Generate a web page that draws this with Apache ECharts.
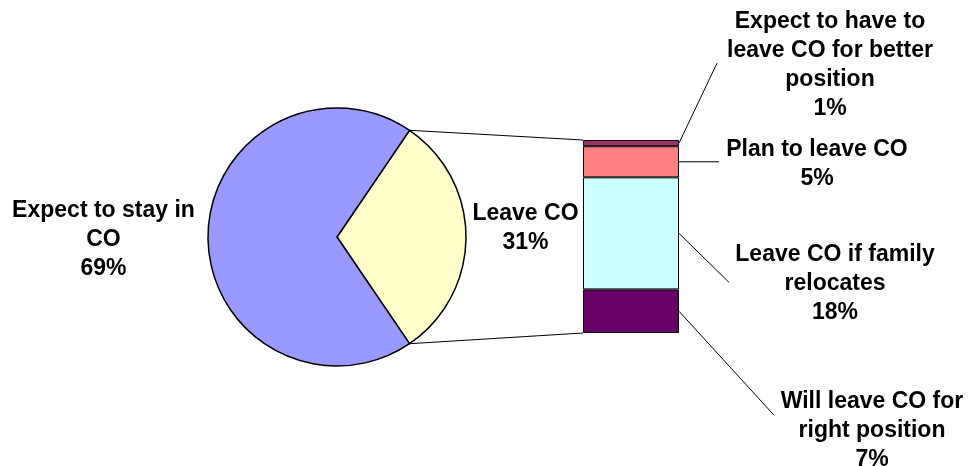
<!DOCTYPE html>
<html>
<head>
<meta charset="utf-8">
<script src="https://cdn.jsdelivr.net/npm/echarts@6/dist/echarts.min.js"></script>
<style>
  html, body { margin: 0; padding: 0; background: #fff; }
  #chart { width: 972px; height: 466px; }
</style>
</head>
<body>
<div id="chart"></div>
<script>
// pie: share that leaves vs stays
const pieNames = ['Leave CO', 'Expect to stay in\nCO'];
const pieValues = [31, 69];
const pieColors = ['#FFFFCC', '#9999FF'];

// bar: breakdown of "Leave CO", bottom to top
const barNames = [
  'Will leave CO for\nright position',
  'Leave CO if family\nrelocates',
  'Plan to leave CO',
  'Expect to have to\nleave CO for better\nposition'
];
const barValues = [7, 18, 5, 1];
const barColors = ['#660066', '#CCFFFF', '#FF8080', '#993366'];

// label offsets and leader line offsets (layout only)
const barLabelShift = [[193, 119], [156, 50], [138, 2], [151, -78]];
const barLeaderShift = [[95, 104], [50, 49], [40, 0], [38, -80]];
// pie label shifts (the pie applies these twice, so they are halved)
const pieLabelShift = [[60.5, -4.5], [-83, 1.5]];

const pieCenter = [337, 237];
const pieRadius = 129;
const gridBox = { left: 583, top: 140, width: 96, height: 193 };

const font = { fontFamily: 'Liberation Sans, Arial, sans-serif', fontWeight: 'bold', fontSize: 23, lineHeight: 29, color: '#000' };

const pieTotal = pieValues.reduce((a, b) => a + b, 0);
const barTotal = barValues.reduce((a, b) => a + b, 0);
const startAngle = pieValues[0] / pieTotal * 360 / 2;

const chart = echarts.init(document.getElementById('chart'));

const barSeries = barValues.map((v, i) => ({
  type: 'bar',
  name: barNames[i],
  stack: 'leave',
  barWidth: '100%',
  data: [v],
  silent: true,
  itemStyle: { color: barColors[i], borderColor: '#000', borderWidth: 1 },
  label: Object.assign({
    show: true,
    position: 'right',
    distance: 0,
    align: 'center',
    verticalAlign: 'middle',
    formatter: p => p.seriesName + '\n' + p.value + '%'
  }, font),
  labelLayout: { dx: barLabelShift[i][0], dy: barLabelShift[i][1] }
}));

chart.setOption({
  animation: false,
  grid: Object.assign({}, gridBox),
  xAxis: { type: 'category', data: ['Leave CO'], show: false },
  yAxis: { type: 'value', min: 0, max: barTotal, show: false },
  series: [{
    type: 'pie',
    center: pieCenter,
    radius: pieRadius,
    startAngle: startAngle,
    clockwise: true,
    silent: true,
    data: pieValues.map((v, i) => ({ name: pieNames[i], value: v, itemStyle: { color: pieColors[i] } })),
    itemStyle: { borderColor: '#000', borderWidth: 1.5 },
    label: Object.assign({
      show: true,
      position: 'inside',
      formatter: '{b}\n{c}%'
    }, font),
    labelLayout: p => ({ dx: pieLabelShift[p.dataIndex][0], dy: pieLabelShift[p.dataIndex][1] }),
    labelLine: { show: false }
  }].concat(barSeries)
});

// connector lines and leader lines, derived from the data geometry
const rad = startAngle * Math.PI / 180;
const pieTop = [pieCenter[0] + pieRadius * Math.cos(rad), pieCenter[1] - pieRadius * Math.sin(rad)];
const pieBottom = [pieCenter[0] + pieRadius * Math.cos(rad), pieCenter[1] + pieRadius * Math.sin(rad)];
const barMid = chart.convertToPixel({ xAxisIndex: 0 }, 'Leave CO');
const barLeft = barMid - gridBox.width / 2;
const barRight = barMid + gridBox.width / 2;
const yTop = chart.convertToPixel({ yAxisIndex: 0 }, barTotal);
const yBottom = chart.convertToPixel({ yAxisIndex: 0 }, 0);

const lineStyle = { stroke: '#000', lineWidth: 1 };
const graphics = [
  { type: 'line', shape: { x1: pieTop[0], y1: pieTop[1], x2: barLeft, y2: yTop }, style: lineStyle, silent: true },
  { type: 'line', shape: { x1: pieBottom[0], y1: pieBottom[1], x2: barLeft, y2: yBottom }, style: lineStyle, silent: true }
];
let cum = 0;
barValues.forEach((v, i) => {
  const y = chart.convertToPixel({ yAxisIndex: 0 }, cum + v / 2);
  cum += v;
  graphics.push({
    type: 'line',
    shape: { x1: barRight, y1: y, x2: barRight + barLeaderShift[i][0], y2: y + barLeaderShift[i][1] },
    style: lineStyle,
    silent: true
  });
});
chart.setOption({ graphic: graphics });
</script>
</body>
</html>
